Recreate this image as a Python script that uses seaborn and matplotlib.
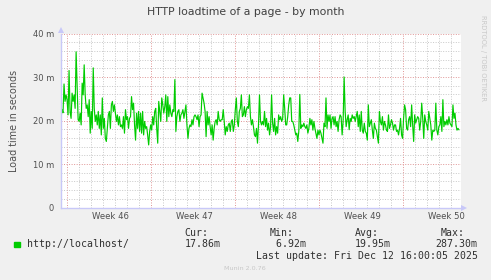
import numpy as np
import pandas as pd
import matplotlib
matplotlib.use("Agg")
import matplotlib.pyplot as plt
import matplotlib.dates as mdates
import matplotlib.transforms as mtransforms
from matplotlib.ticker import MultipleLocator
from matplotlib.patches import Rectangle
import seaborn as sns

# ---------------- data ----------------
TITLE = "HTTP loadtime of a page - by month"
Y_LABEL = "Load time in seconds"
SERIES_NAME = "http://localhost/"
week_labels = ["Week 46", "Week 47", "Week 48", "Week 49", "Week 50"]
week_starts = ["2025-11-10", "2025-11-17", "2025-11-24", "2025-12-01", "2025-12-08"]
y_ticks = [0, 10, 20, 30, 40]
y_tick_labels = ["0", "10 m", "20 m", "30 m", "40 m"]
stat_headers = ["Cur:", "Min:", "Avg:", "Max:"]
stat_values = ["17.86m", " 6.92m", "19.95m", "287.30m"]
last_update = "Last update: Fri Dec 12 16:00:05 2025"
footer = "Munin 2.0.76"
watermark = "RRDTOOL / TOBI OETIKER"
series_start = "2025-11-09 12:00"
series_end = "2025-12-12 16:00"
view_start = "2025-11-09 12:00"
view_end = "2025-12-12 20:00"

# load time values (milliseconds), read in chunks from left to right
vals_a = [20.5, 22.5, 21.8, 28.4, 24.4, 25.9, 24.8, 21.3, 31.5, 22.1,
          20.5, 26.3, 24.4, 25.9, 22.8, 35.8, 28.2, 20.2, 19.8, 21.7,
          19.0, 28.6, 25.9, 32.8, 25.9, 22.8, 23.6, 20.9, 24.8, 17.1,
          22.1, 18.2, 32.1, 22.8, 19.8, 21.3, 19.0, 22.1, 18.2, 21.3,
          16.7, 25.2, 18.2, 20.5, 15.9, 15.2, 18.2, 21.3, 22.1, 18.2,
          23.6, 24.4, 22.1, 23.6]
vals_b = [21.7, 19.8, 21.3, 19.0, 20.9, 18.6, 19.0, 18.2, 20.9, 17.1,
          22.5, 20.2, 20.9, 18.2, 20.5, 20.9, 25.5, 22.5, 24.0, 19.0,
          15.5, 21.7, 18.2, 22.1, 17.5, 21.7, 17.1, 22.1, 16.7, 19.8,
          18.2, 18.6, 16.7, 14.4, 17.5, 19.0, 17.8, 20.9, 19.0, 22.1,
          22.8, 18.2, 14.8, 24.4, 22.1, 19.8, 25.2, 23.6, 21.7, 23.2,
          25.9, 19.8, 25.5, 20.9, 23.6, 21.7, 20.9, 22.5]
vals_c = [22.1, 29.4, 17.5, 20.9, 22.1, 22.5, 19.8, 21.3, 21.7, 22.5,
          20.5, 22.1, 23.6, 19.0, 15.9, 18.2, 19.0, 18.6, 20.2, 19.0,
          20.9, 21.3, 20.9, 20.2, 21.3, 18.6, 20.9, 21.3, 26.3, 25.2,
          24.0, 22.1, 16.3, 22.1, 19.0, 20.9, 18.6, 16.7, 19.0, 15.5,
          18.2, 19.8, 20.2, 19.0, 22.1, 20.2, 19.8, 20.2, 20.2, 22.5,
          19.8, 16.7, 18.6, 17.5, 19.0, 19.4, 17.5, 19.8]
vals_d = [20.2, 17.5, 19.0, 22.5, 25.2, 19.8, 18.6, 22.1, 22.8, 25.9,
          20.9, 21.3, 23.2, 20.9, 22.5, 23.2, 22.8, 25.9, 20.9, 19.0,
          20.2, 18.6, 16.7, 16.3, 18.2, 14.8, 19.0, 25.9, 19.8, 19.0,
          19.8, 19.0, 22.1, 18.6, 20.5, 17.8, 19.4, 16.7, 18.6, 25.9,
          19.4, 17.5, 20.5, 16.7, 18.6, 17.1, 21.3, 20.2, 20.9, 19.8,
          20.5, 25.9, 22.8, 19.0, 19.0, 20.9, 23.6, 25.2]
vals_e = [25.2, 19.8, 19.8, 19.0, 17.8, 16.7, 17.1, 15.2, 17.5, 26.0,
          18.2, 19.0, 18.6, 19.4, 18.6, 18.2, 19.0, 17.1, 18.2, 20.5,
          19.0, 20.2, 17.8, 19.8, 18.2, 17.1, 15.9, 17.8, 16.7, 17.8,
          17.1, 15.9, 14.8, 19.4, 18.6, 25.2, 18.2, 21.3, 19.8, 21.3,
          18.2, 20.5, 20.9, 19.0, 20.9, 18.6, 19.8, 17.5, 20.2, 21.3,
          20.9, 16.7, 19.8, 30.0, 22.1, 18.6, 20.2, 21.3]
vals_f = [17.9, 20.5, 19.8, 21.3, 20.5, 20.9, 19.8, 20.9, 22.1, 18.6,
          21.3, 17.5, 22.1, 17.8, 17.1, 19.4, 17.5, 17.1, 15.5, 23.6,
          18.6, 19.4, 20.2, 17.8, 15.9, 19.4, 18.2, 17.8, 16.3, 14.8,
          22.1, 19.8, 19.0, 20.9, 17.8, 19.8, 19.0, 17.8, 17.5, 21.3,
          18.2, 19.0, 20.2, 19.4, 17.8, 19.0, 19.0, 17.5, 17.8, 16.7,
          18.2, 20.5, 16.7, 15.9, 20.5, 23.6, 22.5, 18.2]
vals_g = [17.8, 20.2, 20.9, 18.6, 23.6, 19.0, 15.2, 21.3, 19.4, 20.2,
          20.9, 20.5, 17.8, 19.8, 24.0, 20.5, 15.9, 21.3, 19.8, 19.0,
          17.8, 22.1, 20.5, 19.0, 15.5, 17.8, 17.5, 17.8, 24.0, 17.8,
          16.7, 18.6, 19.0, 20.9, 17.5, 24.8, 18.6, 19.8, 19.0, 20.2,
          19.0, 20.9, 19.4, 19.0, 18.6, 23.6, 20.5, 21.7, 19.0, 17.8,
          18.2, 17.86]

values = vals_a + vals_b + vals_c + vals_d + vals_e + vals_f + vals_g
times = pd.date_range(series_start, series_end, periods=len(values))
df = pd.DataFrame({"time": times, "value": values})

# ---------------- style ----------------
sns.set_theme(style="white")
plt.rcParams["font.family"] = ["DejaVu Sans"]

BG = "#F0F0F0"
TXT = "#505050"
AXIS = "#C8C8F8"
GRID = "#C8C8C8"
MGRID = "#E09595"
LINE = "#00CC00"

W, H = 491, 280
fig = plt.figure(figsize=(W / 100, H / 100), dpi=100, facecolor=BG)
ax = fig.add_axes([61 / W, (H - 207.6) / H, 400 / W, 174.1 / H])
ax.set_facecolor("white")

sns.lineplot(data=df, x="time", y="value", ax=ax, color=LINE,
             linewidth=0.85, zorder=3)

ax.set_xlim(pd.Timestamp(view_start), pd.Timestamp(view_end))
ax.set_ylim(0, 40)

# grid: daily minor (not on Mondays), weekly major on Mondays
ax.set_axisbelow(True)
ax.xaxis.set_minor_locator(mdates.WeekdayLocator(
    byweekday=(mdates.TU, mdates.WE, mdates.TH, mdates.FR, mdates.SA, mdates.SU)))
ax.set_xticks(pd.to_datetime(week_starts), labels=week_labels)
ax.set_yticks(y_ticks, labels=y_tick_labels)
ax.yaxis.set_minor_locator(MultipleLocator(2))
ax.grid(which="minor", color=GRID, linestyle=(0, (1, 1.6)), linewidth=0.7)
ax.grid(which="major", color=MGRID, linestyle=(0, (1, 1.6)), linewidth=0.7)

ax.tick_params(which="both", length=0)
ax.tick_params(axis="x", labelsize=6.1, labelcolor=TXT, pad=3)
ax.tick_params(axis="y", labelsize=6.0, labelcolor=TXT, pad=5)

# shift week labels to the middle of each week
offset = mtransforms.ScaledTranslation(43.5 / 100, 0, fig.dpi_scale_trans)
for lab in ax.get_xticklabels():
    lab.set_transform(lab.get_transform() + offset)

ax.set_xlabel("")
ax.set_ylabel(Y_LABEL, fontsize=6.9, color=TXT, labelpad=10)

for s in ["top", "right"]:
    ax.spines[s].set_visible(False)
for s in ["left", "bottom"]:
    ax.spines[s].set_color(AXIS)
    ax.spines[s].set_linewidth(1.0)
    ax.spines[s].set_zorder(4)

# axis arrows
ax.plot([0], [1.02], transform=ax.transAxes, marker="^", markersize=4,
        color=AXIS, clip_on=False, zorder=5, markeredgewidth=0)
ax.plot([1.008], [0], transform=ax.transAxes, marker=">", markersize=4,
        color=AXIS, clip_on=False, zorder=5, markeredgewidth=0)

# title and watermark
fig.text(245.5 / W, 1 - 12 / H, TITLE, ha="center", va="center",
         fontsize=7.8, color="#404040")
fig.text(483 / W, 1 - 58 / H, watermark, ha="center", va="center",
         rotation=270, fontsize=4.9, color="#C8C8C8")

# legend
mono = "DejaVu Sans Mono"
fig.patches.append(Rectangle((14 / W, 1 - 247 / H), 5.5 / W, 5.5 / H,
                             transform=fig.transFigure, color=LINE))
fig.text(26.5 / W, 1 - 244.3 / H, SERIES_NAME, ha="left", va="center",
         fontsize=7.15, family=mono, color="#303030")
header_x = [184.3, 269.7, 355.0, 440.7]
value_x = [184.3, 269.7, 355.0, 435.0]
for hx, vx, h, v in zip(header_x, value_x, stat_headers, stat_values):
    fig.text(hx / W, 1 - 232.7 / H, h, ha="left", va="center",
             fontsize=7.15, family=mono, color="#303030")
    fig.text(vx / W, 1 - 244.3 / H, v, ha="left", va="center",
             fontsize=7.15, family=mono, color="#303030")
fig.text(255.7 / W, 1 - 256.3 / H, last_update, ha="left", va="center",
         fontsize=7.15, family=mono, color="#303030")
fig.text(245 / W, 1 - 268 / H, footer, ha="center", va="center",
         fontsize=4.6, color="#C8C8C8")

fig.savefig("out.png", dpi=100, facecolor=BG)
